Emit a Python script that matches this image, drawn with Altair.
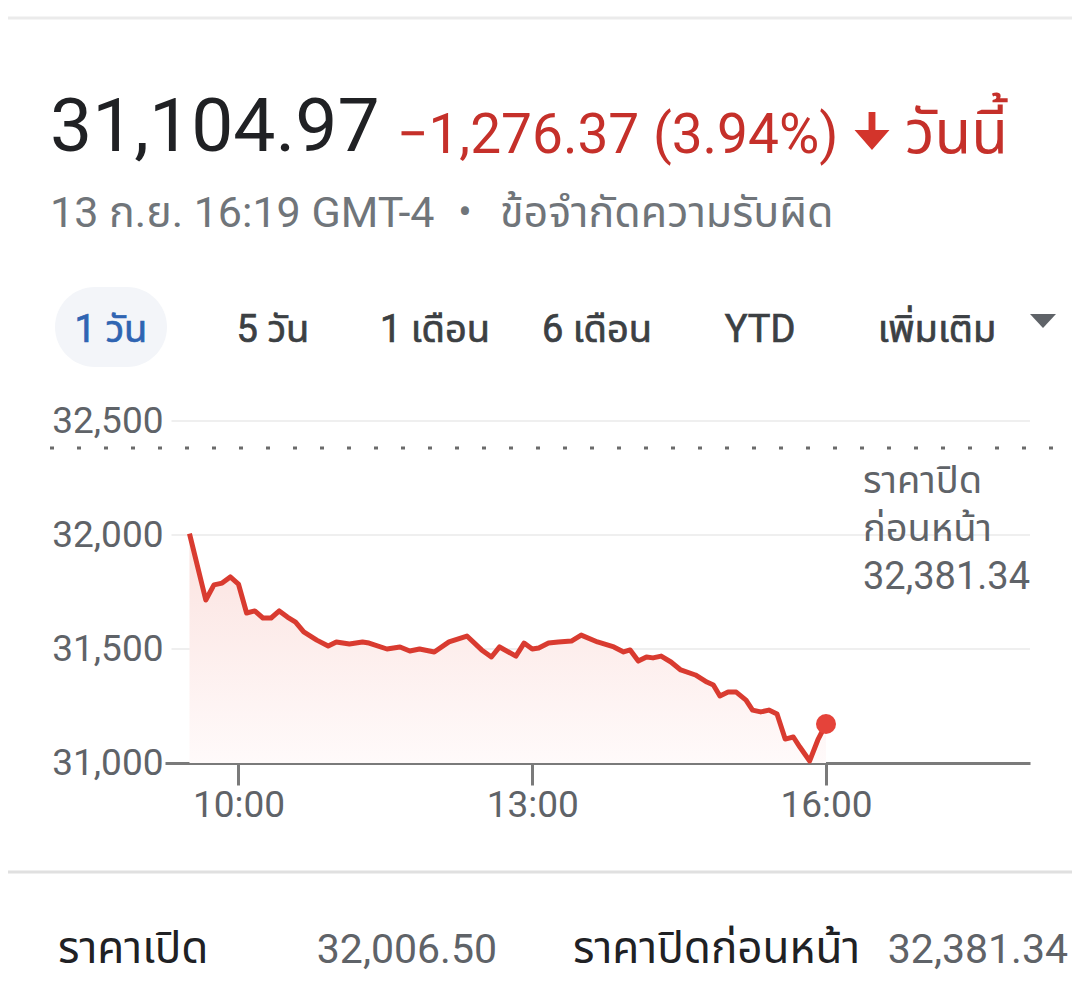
import altair as alt
import pandas as pd

# ---------------- data ----------------
DAY = "2022-09-13"
times = ["09:30", "09:40", "09:45", "09:50", "09:55", "10:00", "10:05", "10:10", "10:15", "10:20",
         "10:25", "10:30", "10:35", "10:40", "10:48", "10:55", "11:00", "11:08", "11:16", "11:20",
         "11:31", "11:39", "11:45", "11:51", "12:00", "12:09", "12:20", "12:29", "12:35", "12:40",
         "12:50", "12:55", "13:00", "13:04", "13:10", "13:16", "13:24", "13:30", "13:40", "13:50",
         "13:56", "14:00", "14:05", "14:10", "14:14", "14:19", "14:25", "14:31", "14:40", "14:47",
         "14:51", "14:55", "15:00", "15:05", "15:11", "15:15", "15:20", "15:25", "15:30", "15:35",
         "15:40", "15:44", "15:50", "15:55", "16:00"]
values = [32006, 31715, 31781, 31789, 31816, 31785, 31658, 31667, 31636, 31636,
          31667, 31640, 31618, 31575, 31539, 31513, 31531, 31522, 31531, 31526,
          31500, 31509, 31491, 31500, 31487, 31531, 31557, 31496, 31465, 31509,
          31469, 31526, 31500, 31504, 31526, 31531, 31535, 31561, 31531, 31509,
          31487, 31496, 31447, 31465, 31461, 31469, 31443, 31408, 31386, 31355,
          31342, 31294, 31311, 31311, 31276, 31232, 31224, 31232, 31215, 31105,
          31114, 31070, 31009, 31101, 31171]
prev_close = 32381.34
y_ticks = [31000, 31500, 32000, 32500]
grid_values = [31500, 32000, 32500]
x_tick_hours = [10, 13, 16]

headline_price = "31,104.97"
headline_change = "\u22121,276.37 (3.94%)"
headline_today = "วันนี้"
subline_date = "13 ก.ย. 16:19 GMT-4"
subline_sep = "•"
subline_note = "ข้อจำกัดความรับผิด"
tabs = ["1 วัน", "5 วัน", "1 เดือน", "6 เดือน", "YTD", "เพิ่มเติม"]
prev_close_note = ["ราคาปิด", "ก่อนหน้า", "32,381.34"]
stat_labels = ["ราคาเปิด", "ราคาปิดก่อนหน้า"]
stat_values = ["32,006.50", "32,381.34"]

# ---------------- styling ----------------
FONT = "Roboto, 'Noto Sans Thai', 'Noto Sans Thai UI', Loma, Garuda, 'Tlwg Typo', 'Noto Sans', sans-serif"
RED = "#d93b30"
TEXT_RED = "#c5302a"
GRAY = "#5f6368"
W, H = 1064, 967


def dt(h, m=0):
    return alt.DateTime(year=2022, month=9, date=13, hours=h, minutes=m)


df = pd.DataFrame({"t": [f"{DAY}T{t}:00" for t in times], "v": values})
last = pd.DataFrame({"t": [f"{DAY}T{times[-1]}:00"], "v": [values[-1]]})

xscale = alt.Scale(domain=[dt(9, 15), dt(18, 5)], range=[157, 1022])
yscale = alt.Scale(domain=[31000, 32500], range=[755, 413], zero=False, nice=False)

x_axis = alt.Axis(values=[dt(h) for h in x_tick_hours], format="%H:%M", title=None, grid=False,
                  domainColor="#7a7a7a", domainWidth=3, tickColor="#7a7a7a", tickWidth=3,
                  tickSize=22, labelPadding=2, labelFontSize=37, labelColor=GRAY,
                  labelFont="Roboto", offset=755 - H)
y_axis = alt.Axis(values=y_ticks, format=",d", title=None, grid=False, domain=False, ticks=False,
                  tickSize=0, labelPadding=0, labelFontSize=37, labelColor=GRAY,
                  labelFont="Roboto", offset=-155)

x_enc = alt.X("t:T", scale=xscale, axis=x_axis)
y_enc = alt.Y("v:Q", scale=yscale, axis=y_axis)

gradient = alt.Gradient(
    gradient="linear",
    stops=[alt.GradientStop(color="#fbe2df", offset=0),
           alt.GradientStop(color="#fffafa", offset=1)],
    x1=1, x2=1, y1=0, y2=1,
)

area = alt.Chart(df).mark_area(color=gradient).encode(x=x_enc, y=y_enc, y2=alt.datum(31000))
grid = alt.Chart(pd.DataFrame({"v": grid_values})).mark_rule(color="#efefef", strokeWidth=2).encode(
    y=y_enc, x=alt.datum(dt(9, 19)), x2=alt.datum(dt(18, 5)))
prev_rule = alt.Chart(alt.Data(values=[{}])).mark_rule(
    color="#6b6b6b", strokeWidth=3, strokeDash=[4, 23]).encode(
    y=alt.datum(prev_close), x=alt.value(42), x2=alt.datum(dt(18, 5)))
line = alt.Chart(df).mark_line(color=RED, strokeWidth=5, strokeJoin="round").encode(x=x_enc, y=y_enc)
dot = alt.Chart(last).mark_circle(size=400, color="#e5433a", opacity=1).encode(x=x_enc, y=y_enc)


def label(text, x, y, size, color, align="left", weight="normal", line_height=None, stroke_w=None):
    kw = dict(text=text, align=align, baseline="alphabetic", fontSize=size, color=color,
              font=FONT, fontWeight=weight)
    if line_height:
        kw["lineHeight"] = line_height
    if stroke_w:
        kw["stroke"] = color
        kw["strokeWidth"] = stroke_w
    return alt.Chart(alt.Data(values=[{}])).mark_text(**kw).encode(x=alt.value(x), y=alt.value(y))


def hline(y, color, width):
    return alt.Chart(alt.Data(values=[{}])).mark_rule(color=color, strokeWidth=width).encode(
        x=alt.value(-8), x2=alt.value(W + 8), y=alt.value(y))


pill = alt.Chart(alt.Data(values=[{}])).mark_rect(color="#f3f5f9", cornerRadius=40).encode(
    x=alt.value(47), x2=alt.value(159), y=alt.value(279), y2=alt.value(359))

arrow = alt.Chart(alt.Data(values=[{}])).mark_point(
    shape="M-0.18,-1 L0.18,-1 L0.18,-0.05 L0.92,-0.05 L0,1 L-0.92,-0.05 L-0.18,-0.05 Z",
    size=1444, filled=True, color="#d3342b", opacity=1).encode(x=alt.value(864), y=alt.value(123))
caret = alt.Chart(alt.Data(values=[{}])).mark_point(
    shape="M-1,-0.54 L1,-0.54 L0,0.54 Z", size=676, filled=True, color="#5f6368", opacity=1).encode(
    x=alt.value(1035), y=alt.value(313))

tab_centers = [103, 265, 427, 589, 752, 929]
tab_layers = []
for i, (txt, cx) in enumerate(zip(tabs, tab_centers)):
    tab_layers.append(label(txt, cx, 334, 38, "#2f64b2" if i == 0 else "#3c4043", align="center",
                            stroke_w=0.7))

layers = [
    hline(10, "#ebebeb", 3),
    label(headline_price, 42, 143, 75, "#202124"),
    label(headline_change, 389, 145, 55, TEXT_RED),
    arrow,
    label(headline_today, 897, 145, 60, TEXT_RED),
    label(subline_date, 42, 219, 43, "#70757a"),
    label(subline_sep, 457, 218, 40, "#70757a", align="center"),
    label(subline_note, 492, 219, 43, "#70757a"),
    pill,
    *tab_layers,
    caret,
    grid,
    area,
    prev_rule,
    line,
    dot,
    label(prev_close_note, 855, 485, 38, GRAY, line_height=48),
    hline(864, "#e0e0e0", 3),
    label(stat_labels[0], 50, 955, 44, "#202124"),
    label(stat_values[0], 489, 955, 41, GRAY, align="right"),
    label(stat_labels[1], 565, 955, 44, "#202124"),
    label(stat_values[1], 1060, 955, 41, GRAY, align="right"),
]

chart = alt.layer(*layers).properties(
    width=W, height=H, autosize=alt.AutoSizeParams(type="none"), padding=0, background="white"
).configure_view(stroke=None)

chart.save("out.html", embed_options={"renderer": "svg", "actions": False})
